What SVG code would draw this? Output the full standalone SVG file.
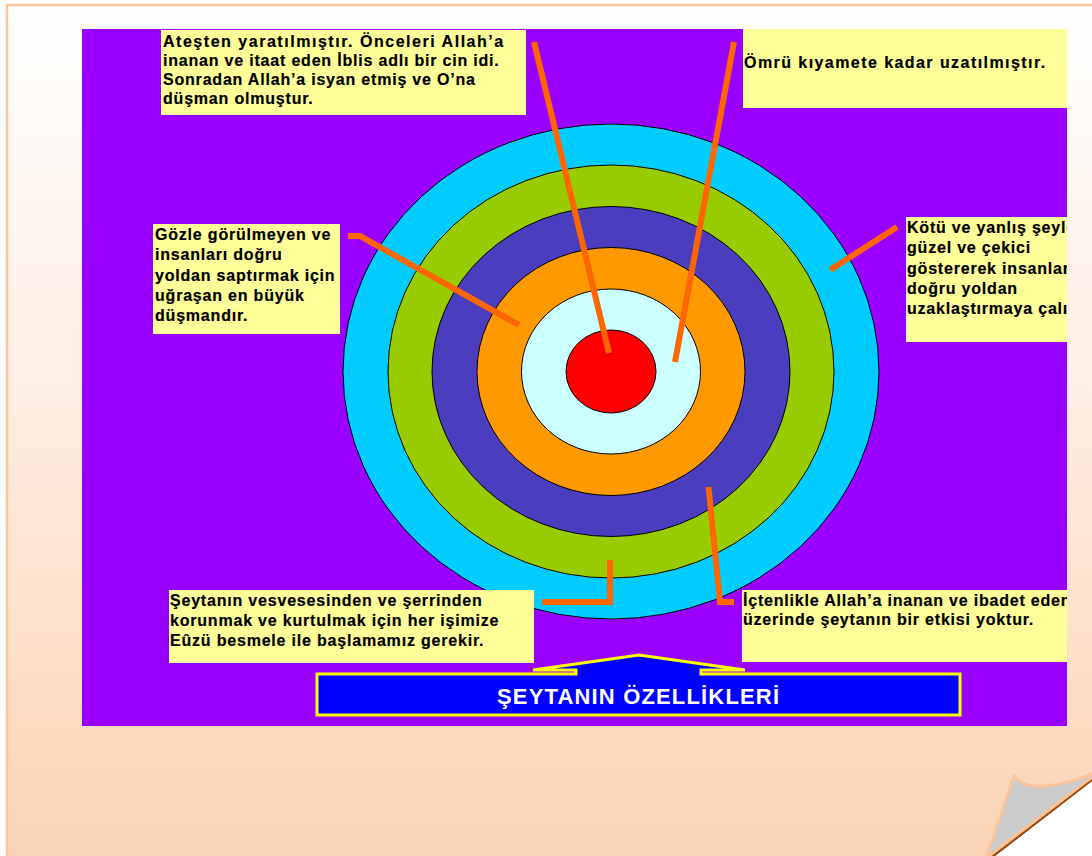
<svg xmlns="http://www.w3.org/2000/svg" width="1092" height="856" viewBox="0 0 1092 856">
  <defs>
    <linearGradient id="pageGrad" x1="0" y1="0" x2="0" y2="1">
      <stop offset="0" stop-color="#FFFFFF"/>
      <stop offset="0.45" stop-color="#FDEEE3"/>
      <stop offset="1" stop-color="#FAD2B3"/>
    </linearGradient>
    <clipPath id="slideClip">
      <rect x="82" y="29" width="985" height="697"/>
    </clipPath>
    <style>
      .box { fill: #FFFF99; }
      .txt { font-family: "Liberation Sans", Arial, sans-serif; font-weight: bold; font-size: 16px; fill: #000000; letter-spacing: 0.8px; stroke: #000000; stroke-width: 0.2px; }
      .ring { stroke: #000000; stroke-width: 1; }
      .lead { fill: none; stroke: #FF6600; stroke-width: 6; stroke-linejoin: miter; }
      .title { font-family: "Liberation Sans", Arial, sans-serif; font-weight: bold; font-size: 22px; fill: #FFFFFF; }
    </style>
  </defs>

  <!-- page -->
  <g id="page">
    <rect x="7" y="5" width="1100" height="870" fill="url(#pageGrad)" stroke="#FBC49A" stroke-width="2.5"/>
  </g>

  <g clip-path="url(#slideClip)">
    <rect id="slide" x="82" y="29" width="985" height="697" fill="#9900FF"/>

    <g id="target">
      <ellipse class="ring" cx="611" cy="371.5" rx="268" ry="247.5" fill="#00CCFF"/>
      <ellipse class="ring" cx="611" cy="371.5" rx="223" ry="206.5" fill="#99CC00"/>
      <ellipse class="ring" cx="611" cy="371.5" rx="179" ry="165" fill="#4A3DBE"/>
      <ellipse class="ring" cx="611" cy="371.5" rx="134" ry="124" fill="#FF9900"/>
      <ellipse class="ring" cx="611" cy="371.5" rx="89.5" ry="82.5" fill="#CCFFFF"/>
      <ellipse class="ring" cx="611" cy="371.5" rx="45" ry="41.5" fill="#FF0000"/>
    </g>

    <g id="connectors">
      <line class="lead" x1="534" y1="42" x2="609" y2="353"/>
      <line class="lead" x1="734" y1="42" x2="675" y2="362"/>
      <polyline class="lead" points="348,236 360,236 519,325"/>
      <line class="lead" x1="830" y1="270" x2="897" y2="227"/>
      <polyline class="lead" points="610,560 610,602 542,602"/>
      <polyline class="lead" points="708.5,487 720,602 734,602"/>
    </g>

    <g id="box-ates">
      <rect class="box" x="161" y="30" width="365" height="85"/>
      <text class="txt" x="163" y="46.5" textLength="341" lengthAdjust="spacing">Ateşten yaratılmıştır. Önceleri Allah’a</text>
      <text class="txt" x="163" y="65.5">inanan ve itaat eden İblis adlı bir cin idi.</text>
      <text class="txt" x="163" y="84.5">Sonradan Allah’a isyan etmiş ve O’na</text>
      <text class="txt" x="163" y="103.5">düşman olmuştur.</text>
    </g>

    <g id="box-omru">
      <rect class="box" x="743" y="29" width="324" height="79"/>
      <text class="txt" x="744" y="68" textLength="302" lengthAdjust="spacing">Ömrü kıyamete kadar uzatılmıştır.</text>
    </g>

    <g id="box-gozle">
      <rect class="box" x="153" y="224" width="187" height="110"/>
      <text class="txt" x="155" y="239.5">Gözle görülmeyen ve</text>
      <text class="txt" x="155" y="260">insanları doğru</text>
      <text class="txt" x="155" y="280.5">yoldan saptırmak için</text>
      <text class="txt" x="155" y="300.5">uğraşan en büyük</text>
      <text class="txt" x="155" y="320.5">düşmandır.</text>
    </g>

    <g id="box-kotu">
      <rect class="box" x="906" y="217" width="161" height="125"/>
      <text class="txt" x="907" y="232.5">Kötü ve yanlış şeyle</text>
      <text class="txt" x="907" y="253">güzel ve çekici</text>
      <text class="txt" x="907" y="273.5">göstererek insanlar</text>
      <text class="txt" x="907" y="294">doğru yoldan</text>
      <text class="txt" x="907" y="314">uzaklaştırmaya çalı</text>
    </g>

    <g id="box-seytanin">
      <rect class="box" x="169" y="590" width="365" height="73"/>
      <text class="txt" x="170" y="605.5">Şeytanın vesvesesinden ve şerrinden</text>
      <text class="txt" x="170" y="626">korunmak ve kurtulmak için her işimize</text>
      <text class="txt" x="170" y="645.5">Eûzü besmele ile başlamamız gerekir.</text>
    </g>

    <g id="box-ictenlikle">
      <rect class="box" x="742" y="590" width="325" height="72"/>
      <text class="txt" x="743" y="605.5">İçtenlikle Allah’a inanan ve ibadet eden</text>
      <text class="txt" x="743" y="625">üzerinde şeytanın bir etkisi yoktur.</text>
    </g>

    <g id="title">
      <path d="M317,674 H576 V670 H533 L639,655 L745,670 H701 V674 H960 V715 H317 Z" fill="#0000FF" stroke="#FFFF00" stroke-width="3"/>
      <text class="title" x="497" y="704" textLength="282" lengthAdjust="spacing">ŞEYTANIN ÖZELLİKLERİ</text>
    </g>
  </g>

  <!-- page curl -->
  <g id="page-curl">
    <polygon points="1092,779 1092,856 992,856" fill="#FFFFFF"/>
    <line x1="1093" y1="778.5" x2="991.5" y2="857" stroke="#9C4A0C" stroke-width="3"/>
    <path d="M1014,776 Q1024,788 1045,786 Q1070,784 1094,773 L1092,777 L989,856 L987,856 Z" fill="#CCCCCC" stroke="#FBC49A" stroke-width="3" stroke-linejoin="round"/>
  </g>
</svg>
